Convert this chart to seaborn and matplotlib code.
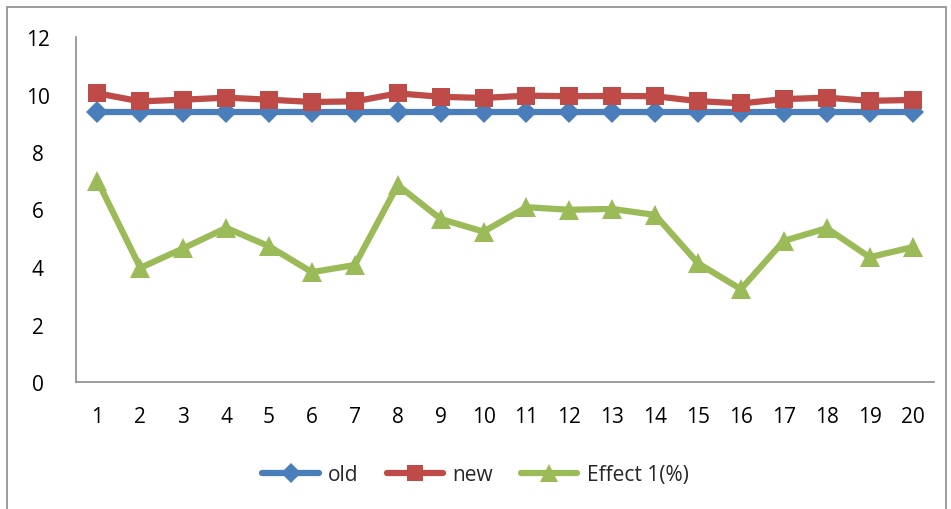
import matplotlib
matplotlib.use("Agg")
import matplotlib.pyplot as plt
from matplotlib.patches import Rectangle
import seaborn as sns
import pandas as pd

# Series values per trial
trials = list(range(1, 21))
old = [9.38] * 20
new = [10.04, 9.76, 9.82, 9.89, 9.82, 9.74, 9.76, 10.04, 9.92, 9.88,
       9.96, 9.94, 9.95, 9.94, 9.77, 9.69, 9.84, 9.89, 9.78, 9.81]
effect = [7.0, 3.97, 4.65, 5.36, 4.72, 3.82, 4.07, 6.85, 5.67, 5.23,
          6.08, 5.99, 6.02, 5.81, 4.13, 3.23, 4.91, 5.35, 4.34, 4.69]
series_names = ["old", "new", "Effect 1(%)"]
y_ticks = [0, 2, 4, 6, 8, 10, 12]

colors = {"old": "#4A7EBB", "new": "#BE4B48", "Effect 1(%)": "#9BBB59"}
markers = {"old": "D", "new": "s", "Effect 1(%)": "^"}
msizes = {"old": 11, "new": 13, "Effect 1(%)": 14}

df = pd.DataFrame({
    "trial": trials * 3,
    "value": old + new + effect,
    "series": [series_names[0]] * 20 + [series_names[1]] * 20 + [series_names[2]] * 20,
})

sns.set_style("white")
plt.rcParams["font.family"] = ["Open Sans", "DejaVu Sans"]

fig = plt.figure(figsize=(9.51, 5.10), dpi=100)
ax = fig.add_axes([76 / 951, 1 - 383 / 510, (934 - 76) / 951, (383 - 38) / 510])

for name in series_names:
    sub = df[df["series"] == name]
    sns.lineplot(data=sub, x="trial", y="value", ax=ax, color=colors[name],
                 marker=markers[name], markersize=msizes[name],
                 markeredgewidth=0, linewidth=4.5, label=name,
                 solid_capstyle="round")

ax.set_xlim(0.5, 20.5)
ax.set_ylim(0, 12)
ax.set_xticks(trials)
ax.set_xticklabels([str(t) for t in trials])
ax.set_yticks(y_ticks)
ax.set_yticklabels([str(t) for t in y_ticks])
ax.set_xlabel("")
ax.set_ylabel("")
ax.tick_params(axis="both", length=0, labelsize=15, colors="#000000")
ax.tick_params(axis="x", pad=17)
ax.tick_params(axis="y", pad=27.5)
for lbl in ax.get_yticklabels():
    lbl.set_horizontalalignment("center")

for side in ["top", "right"]:
    ax.spines[side].set_visible(False)
for side in ["left", "bottom"]:
    ax.spines[side].set_color("#8C8C8C")
    ax.spines[side].set_linewidth(1.2)

leg = ax.legend(loc="center", bbox_to_anchor=(0.5, (510 - 476) / 510),
                bbox_transform=fig.transFigure, ncol=3, frameon=False,
                fontsize=15, handlelength=2.7, columnspacing=1.35,
                handletextpad=0.45, markerscale=0.9)

# outer chart border
fig.patches.append(Rectangle((7 / 951, -0.05), (946 - 7) / 951, 1.05 - 8 / 510,
                             transform=fig.transFigure, fill=False,
                             edgecolor="#8C8C8C", linewidth=1.2))

fig.savefig("out.png", dpi=100)
